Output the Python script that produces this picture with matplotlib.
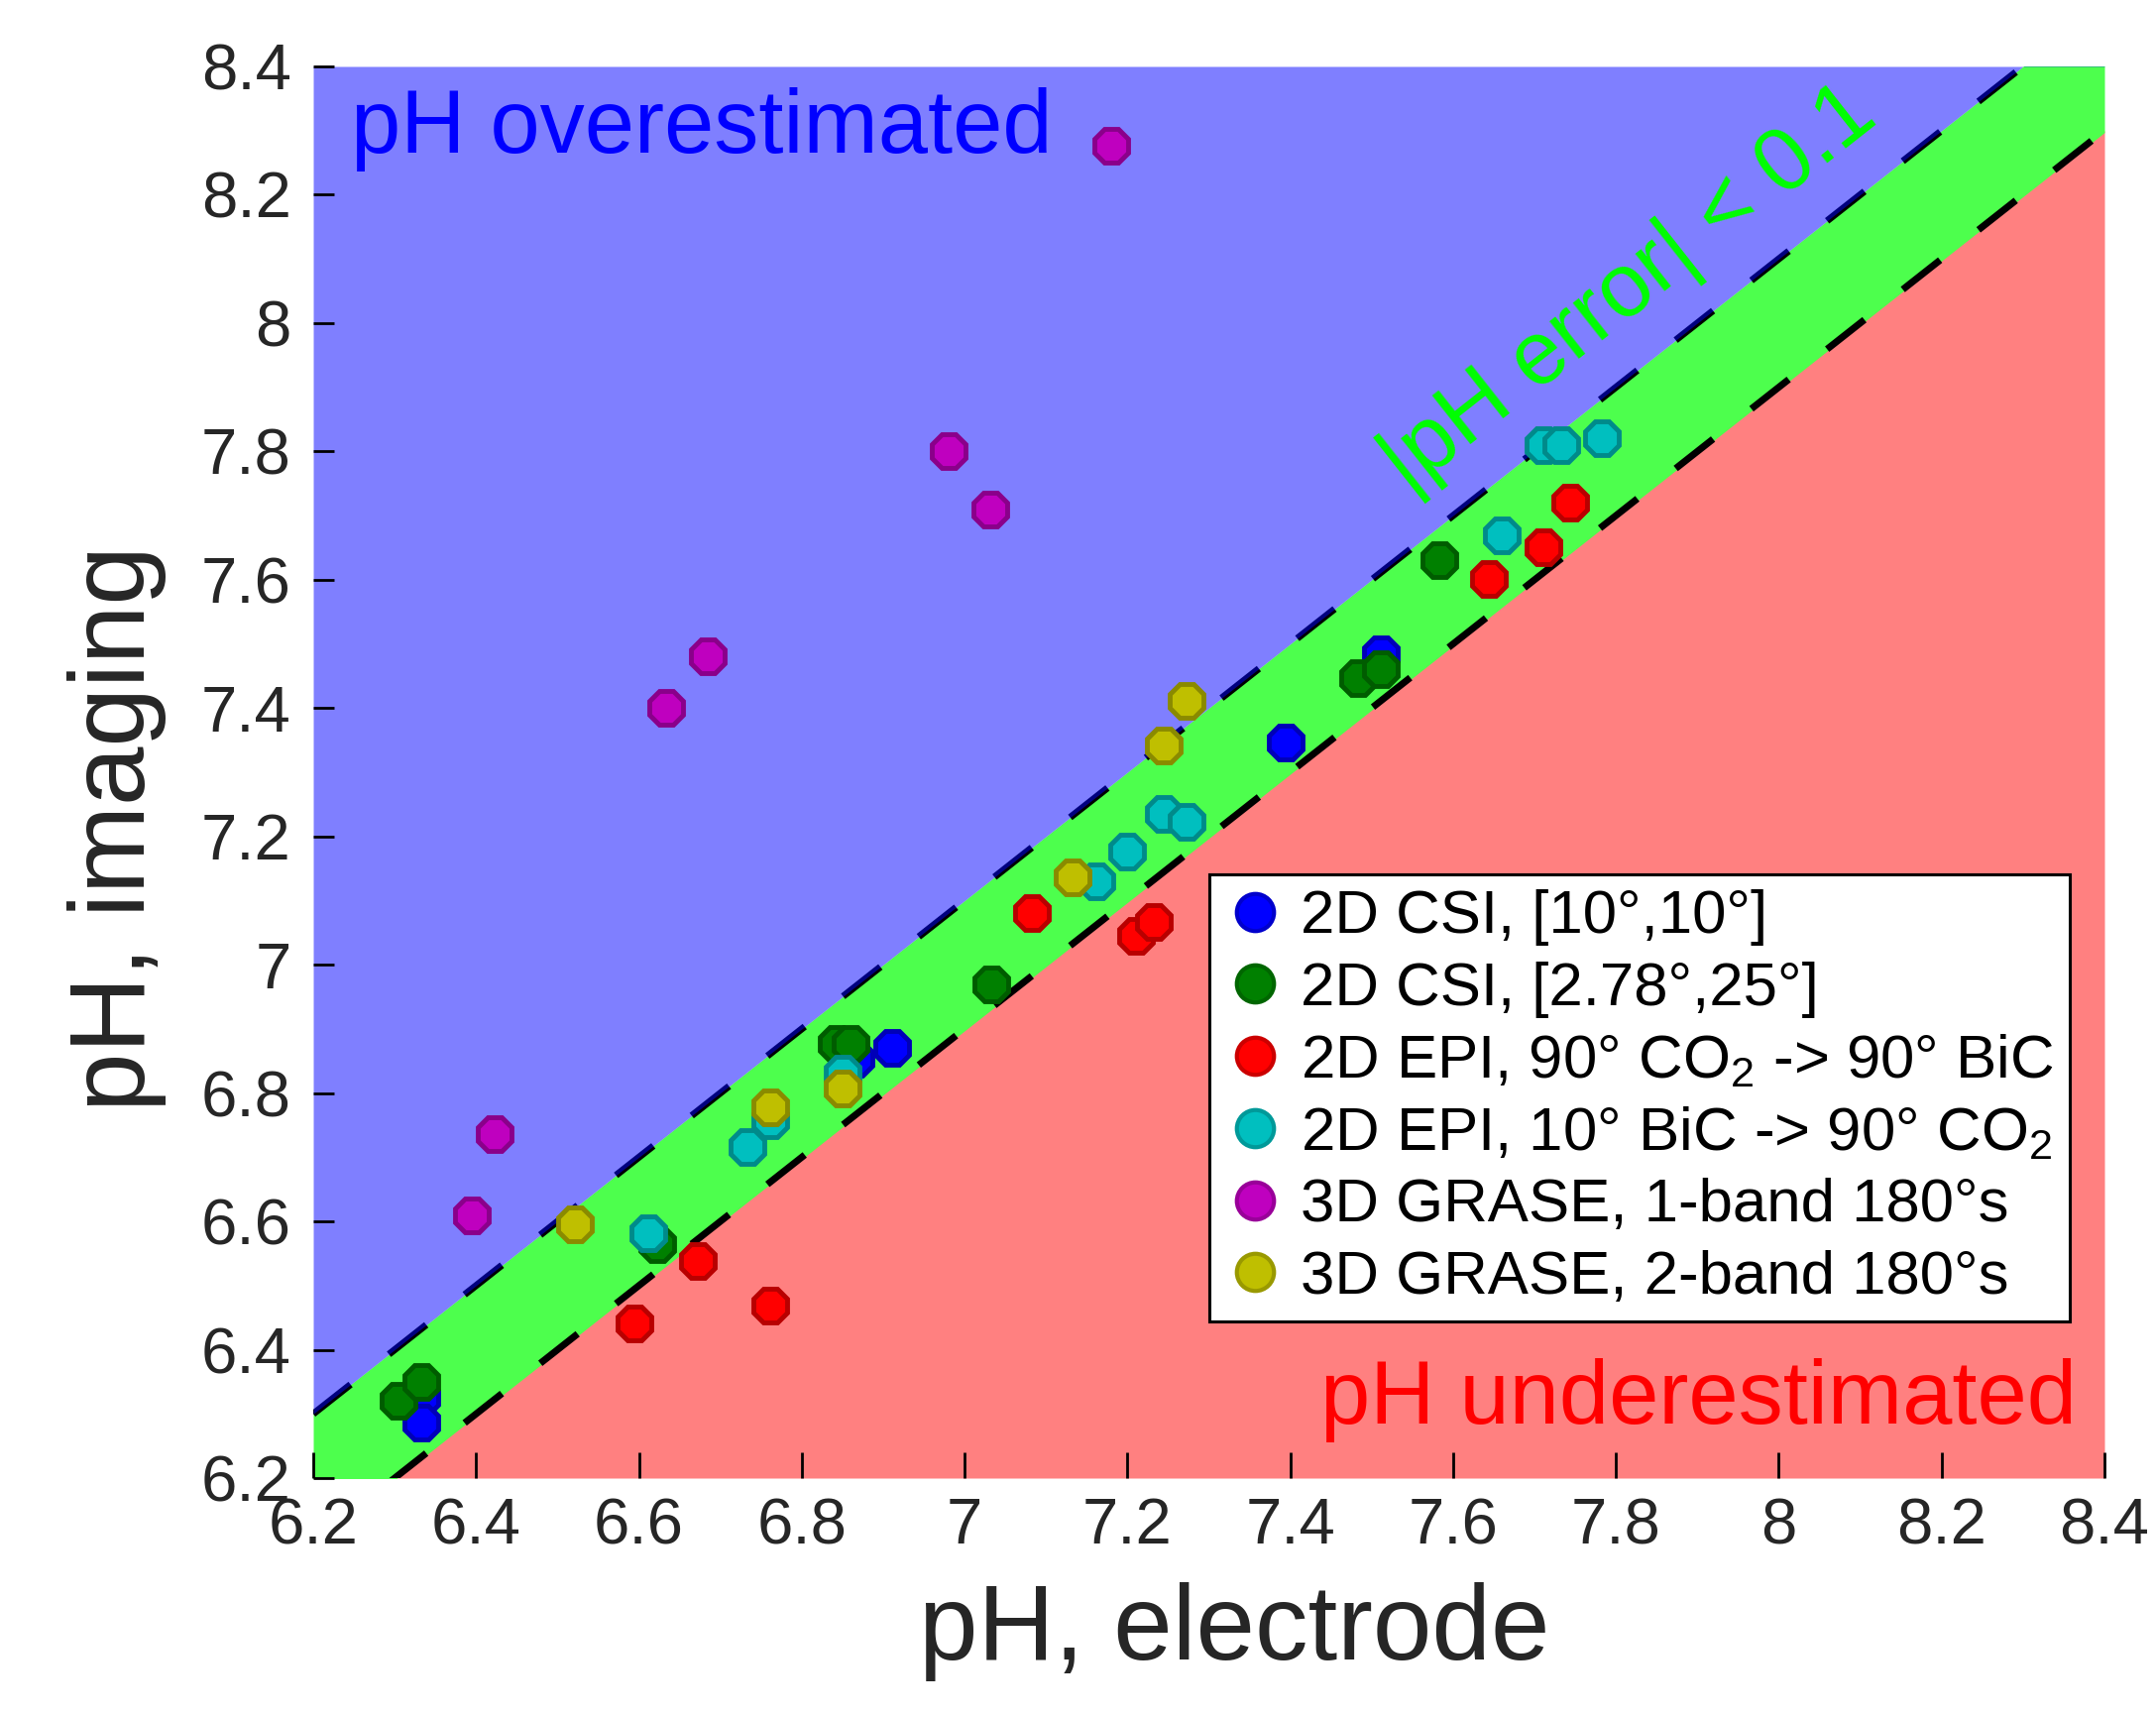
import matplotlib
matplotlib.use('Agg')
import matplotlib.pyplot as plt
from matplotlib.lines import Line2D

plt.rcParams['font.family'] = ['Liberation Sans', 'DejaVu Sans']
plt.rcParams['mathtext.fontset'] = 'custom'
plt.rcParams['mathtext.rm'] = 'Liberation Sans'
plt.rcParams['mathtext.it'] = 'Liberation Sans:italic'
plt.rcParams['mathtext.bf'] = 'Liberation Sans:bold'
plt.rcParams['lines.scale_dashes'] = True

# ---------------- data ----------------
labels = [
    "2D CSI, [10°,10°]",
    "2D CSI, [2.78°,25°]",
    "2D EPI, 90° CO$_2$ -> 90° BiC",
    "2D EPI, 10° BiC -> 90° CO$_2$",
    "3D GRASE, 1-band 180°s",
    "3D GRASE, 2-band 180°s",
]
csi10_x = [6.333, 6.333, 6.866, 6.911, 7.394, 7.511]
csi10_y = [6.325, 6.287, 6.853, 6.870, 7.347, 7.484]

csi278_x = [6.305, 6.333, 6.623, 6.843, 6.860, 7.033, 7.483, 7.511, 7.583]
csi278_y = [6.321, 6.350, 6.565, 6.877, 6.877, 6.969, 7.446, 7.460, 7.630]

epi90_x = [6.594, 6.672, 6.761, 7.083, 7.211, 7.233, 7.644, 7.711, 7.744]
epi90_y = [6.441, 6.539, 6.469, 7.081, 7.045, 7.067, 7.601, 7.651, 7.720]

epi10_x = [6.611, 6.733, 6.761, 6.850, 7.162, 7.200, 7.244, 7.272, 7.660, 7.711, 7.733, 7.783]
epi10_y = [6.582, 6.716, 6.758, 6.830, 7.130, 7.177, 7.235, 7.222, 7.670, 7.810, 7.810, 7.820]

grase1_x = [6.395, 6.423, 6.633, 6.684, 6.981, 7.032, 7.180]
grase1_y = [6.609, 6.736, 7.400, 7.480, 7.800, 7.710, 8.276]

grase2_x = [6.522, 6.761, 6.850, 7.133, 7.244, 7.272]
grase2_y = [6.596, 6.778, 6.807, 7.137, 7.342, 7.411]

tick_values = [6.2, 6.4, 6.6, 6.8, 7.0, 7.2, 7.4, 7.6, 7.8, 8.0, 8.2, 8.4]
tick_labels = ['6.2', '6.4', '6.6', '6.8', '7', '7.2', '7.4', '7.6', '7.8', '8', '8.2', '8.4']
tolerance = 0.1
lims = (6.2, 8.4)

series = [
    (csi10_x, csi10_y, (0.0, 0.0, 1.0)),
    (csi278_x, csi278_y, (0.0, 0.5, 0.0)),
    (epi90_x, epi90_y, (1.0, 0.0, 0.0)),
    (epi10_x, epi10_y, (0.0, 0.75, 0.75)),
    (grase1_x, grase1_y, (0.75, 0.0, 0.75)),
    (grase2_x, grase2_y, (0.75, 0.75, 0.0)),
]

# ---------------- figure ----------------
fig = plt.figure(figsize=(21.75, 17.29), dpi=100)
ax = fig.add_axes([0.14529, 0.13765, 0.8308, 0.8236])
ax.set_xlim(*lims)
ax.set_ylim(*lims)

xs = [lims[0], lims[1]]
lo = [v - tolerance for v in xs]
hi = [v + tolerance for v in xs]

# regions
ax.fill_between(xs, [lims[0]] * 2, lo, color='#ff8080', lw=0, zorder=1)
ax.fill_between(xs, [v - 0.003 for v in lo], hi, color='#4dff4d', lw=0, zorder=1.1)
ax.fill_between(xs, hi, [lims[1]] * 2, color=(0, 0, 1), alpha=0.5, lw=0, zorder=2.2)

# tolerance lines
for yy in (hi, lo):
    ln, = ax.plot(xs, yy, color='black', lw=5.0, zorder=2)
    ln.set_dashes((6.9, 7.1))

# points
def darker(c, f=0.72):
    return tuple(v * f for v in c)

for x, y, c in series:
    ax.plot(x, y, ls='none', marker='8', ms=26, mfc=c, mec=darker(c), mew=3.5, zorder=4)

# annotations
ax.text(0.021, 0.9389, 'pH overestimated', transform=ax.transAxes, color=(0, 0, 1),
        fontsize=65, ha='left', va='baseline', zorder=5)
ax.text(0.9845, 0.0386, 'pH underestimated', transform=ax.transAxes, color=(1, 0, 0),
        fontsize=65, ha='right', va='baseline', zorder=5)
ax.text(0.611, 0.697, '|pH error| < 0.1', transform=ax.transAxes, color=(0, 1, 0),
        fontsize=65, ha='left', va='baseline', rotation=38.24, rotation_mode='anchor', zorder=5)

# axes styling
for sp in ax.spines.values():
    sp.set_visible(False)
ax.set_axisbelow(False)
ax.set_xticks(tick_values)
ax.set_xticklabels(tick_labels)
ax.set_yticks(tick_values)
ax.set_yticklabels(tick_labels)
ax.tick_params(axis='x', direction='in', length=19, width=2, pad=14, labelsize=47,
               color='black', labelcolor='#262626', top=False)
ax.tick_params(axis='y', direction='in', length=15, width=2, pad=16, labelsize=47,
               color='black', labelcolor='#262626', right=False)

ax.set_xlabel('pH, electrode', fontsize=77, color='#262626')
ax.set_ylabel('pH, imaging', fontsize=77, color='#262626')
ax.xaxis.set_label_coords(0.514, -0.0737)
ax.yaxis.set_label_coords(-0.0819, 0.46)

# legend
handles = [Line2D([], [], ls='none', marker='o', ms=27, mfc=c, mec=darker(c, 0.8), mew=3)
           for _, _, c in series]
leg = ax.legend(handles, labels, loc='upper left', bbox_to_anchor=(0.5, 0.4277),
                borderaxespad=0, fontsize=44.5, frameon=True, fancybox=False,
                edgecolor='black', framealpha=1, borderpad=0.25, handlelength=1.0,
                handletextpad=0.25, labelspacing=0.25)
leg.get_frame().set_linewidth(2.2)
leg.set_zorder(10)

fig.savefig('out.png', dpi=100)
